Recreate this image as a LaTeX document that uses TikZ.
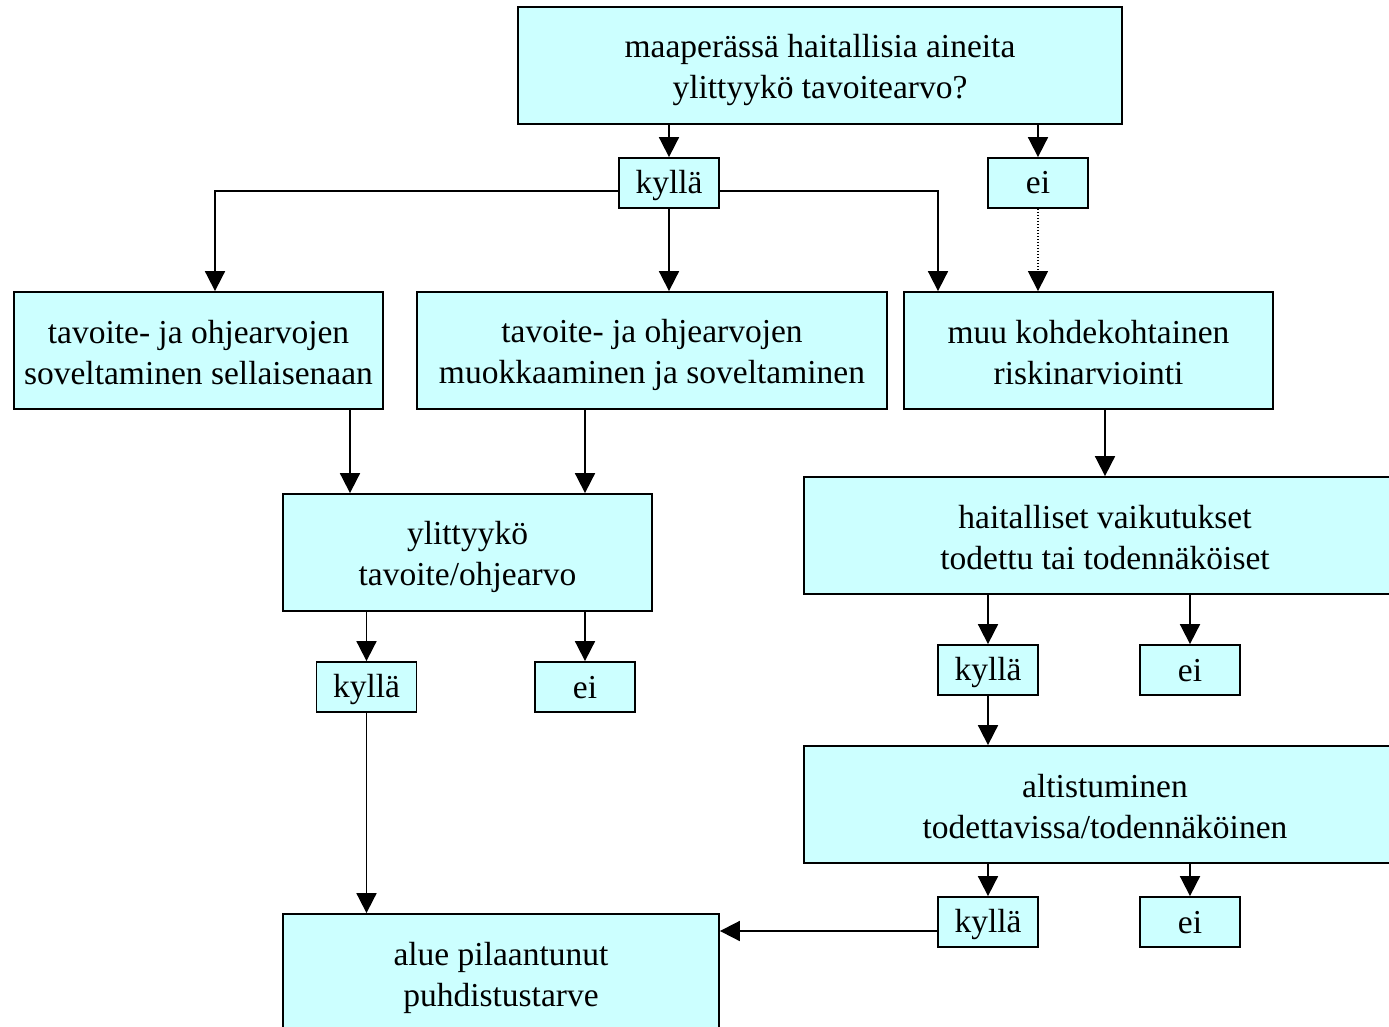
\documentclass[tikz,border=0pt]{standalone}
\usepackage{fontspec}
\setmainfont{Liberation Serif}
\usetikzlibrary{arrows.meta}
\definecolor{boxcyan}{HTML}{CCFFFF}
\newcommand{\mls}{\rule[-7pt]{0pt}{40pt}}
\newcommand{\sls}{\rule[-7pt]{0pt}{36pt}}
\begin{document}
\begin{tikzpicture}[x=1pt,y=-1pt,
  box/.style={draw, line width=1.8pt, fill=boxcyan, align=center, inner sep=0pt,
    font=\fontsize{33.5}{41}\selectfont},
  bigbox/.style={box, minimum height=117pt},
  smallbox/.style={box, minimum width=100pt, minimum height=50pt},
  arr/.style={line width=1.8pt, -{Triangle[length=20pt,width=20pt]}}]
\useasboundingbox (0,0) rectangle (1389,1027);
\clip (0,0) rectangle (1389,1027);
% nodes
\node[bigbox, minimum width=604pt] (top) at (820,65.5) {\mls maaperässä haitallisia aineita\\\mls ylittyykö tavoitearvo?};
\node[smallbox] (k1) at (669,183) {\sls kyllä};
\node[smallbox] (e1) at (1038,183) {\sls ei};
\node[bigbox, minimum width=369pt] (A) at (198.5,350.5) {\mls tavoite- ja ohjearvojen\\\mls soveltaminen sellaisenaan};
\node[bigbox, minimum width=470pt] (B) at (652,350.5) {\mls tavoite- ja ohjearvojen\\\mls muokkaaminen ja soveltaminen};
\node[bigbox, minimum width=369pt] (C) at (1088.5,350.5) {\mls muu kohdekohtainen\\\mls riskinarviointi};
\node[bigbox, minimum width=369pt] (D) at (467.5,552.5) {\mls ylittyykö\\\mls tavoite/ohjearvo};
\node[smallbox] (k2) at (366.5,687) {\sls kyllä};
\node[smallbox] (e2) at (585,687) {\sls ei};
\node[bigbox, minimum width=602pt] (E) at (1105,535.5) {\mls haitalliset vaikutukset\\\mls todettu tai todennäköiset};
\node[smallbox] (k3) at (988,670) {\sls kyllä};
\node[smallbox] (e3) at (1190,670) {\sls ei};
\node[bigbox, minimum width=602pt] (F) at (1105,804.5) {\mls altistuminen\\\mls todettavissa/todennäköinen};
\node[smallbox] (k4) at (988,922) {\sls kyllä};
\node[smallbox] (e4) at (1190,922) {\sls ei};
\node[box, minimum width=436pt, minimum height=119pt] (G) at (501,973.5) {\mls alue pilaantunut\\\mls puhdistustarve};
% helper coordinates
\coordinate (k1l) at ([yshift=-8pt]k1.west);
\coordinate (k1r) at ([yshift=-8pt]k1.east);
\coordinate (At) at ([xshift=16.5pt]A.north);
\coordinate (Ct) at ([xshift=-150.5pt]C.north);
\coordinate (As) at ([xshift=151.5pt]A.south);
\coordinate (Bs) at ([xshift=-67pt]B.south);
\coordinate (Cs) at ([xshift=16.5pt]C.south);
\coordinate (k4l) at ([yshift=-9pt]k4.west);
% connectors
\draw[arr] (top.south -| k1) -- (k1.north);
\draw[arr] (top.south -| e1) -- (e1.north);
\draw[arr] (k1l) -| (At);
\draw[arr] (k1.south) -- (k1.south |- B.north);
\draw[arr] (k1r) -| (Ct);
\draw[arr, line width=1.4pt, dash pattern=on 1.4pt off 1.6pt] (e1.south) -- (e1.south |- C.north);
\draw[arr] (As) -- (As |- D.north);
\draw[arr] (Bs) -- (Bs |- D.north);
\draw[arr] (D.south -| k2) -- (k2.north);
\draw[arr] (D.south -| e2) -- (e2.north);
\draw[arr] (Cs) -- (Cs |- E.north);
\draw[arr] (E.south -| k3) -- (k3.north);
\draw[arr] (E.south -| e3) -- (e3.north);
\draw[arr] (k3.south) -- (k3.south |- F.north);
\draw[arr] (F.south -| k4) -- (k4.north);
\draw[arr] (F.south -| e4) -- (e4.north);
\draw[arr] (k2.south) -- (k2.south |- G.north);
\draw[arr] (k4l) -- (k4l -| G.east);
\end{tikzpicture}
\end{document}
